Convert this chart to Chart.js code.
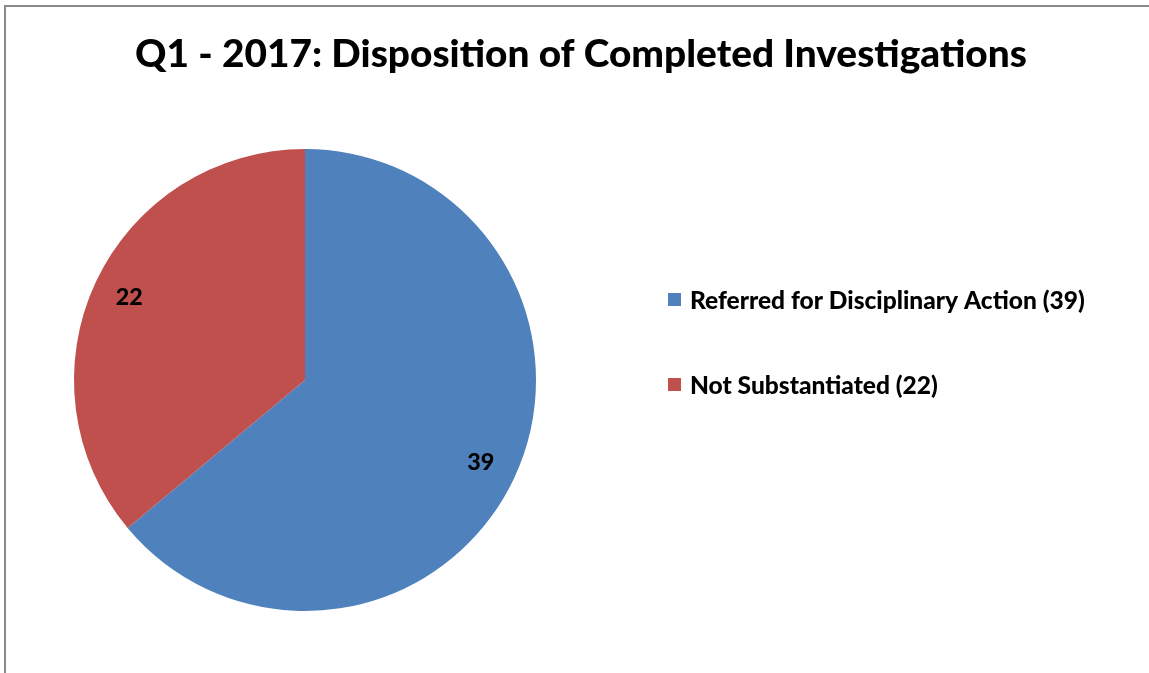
<!DOCTYPE html>
<html>
<head>
<meta charset="utf-8">
<script src="https://cdn.jsdelivr.net/npm/chart.js@4.4.0/dist/chart.umd.min.js"></script>
<style>
  html, body { margin: 0; padding: 0; background: #ffffff; }
  #wrap { position: relative; width: 1149px; height: 673px; }
</style>
</head>
<body>
<div id="wrap"><canvas id="c" width="1149" height="673"></canvas></div>
<script>
const chartTitle = "Q1 - 2017: Disposition of Completed Investigations";
const categories = ["Referred for Disciplinary Action", "Not Substantiated"];
const values = [39, 22];
const sliceColors = ["#4F81BD", "#C0504D"];

const FONT = "Lato, 'Open Sans', 'Liberation Sans', sans-serif";
const WEIGHT = "900";

function fitFont(ctx, text, targetWidth, baseSize) {
  ctx.font = WEIGHT + " " + baseSize + "px " + FONT;
  const w = ctx.measureText(text).width;
  return baseSize * targetWidth / w;
}

const decorPlugin = {
  id: 'decor',
  afterDraw(chart) {
    const ctx = chart.ctx;
    ctx.save();
    // frame
    ctx.strokeStyle = "#8a8a8a";
    ctx.lineWidth = 2;
    ctx.beginPath();
    ctx.moveTo(5, 673);
    ctx.lineTo(5, 6);
    ctx.lineTo(1149, 6);
    ctx.stroke();

    // title
    const ts = fitFont(ctx, chartTitle, 892, 36);
    ctx.font = WEIGHT + " " + ts + "px " + FONT;
    ctx.fillStyle = "#000000";
    ctx.textAlign = "center";
    ctx.textBaseline = "middle";
    ctx.fillText(chartTitle, 581, 54);

    // legend
    const labels = categories.map((c, i) => c + " (" + values[i] + ")");
    const ls = fitFont(ctx, labels[0], 395, 22);
    ctx.font = WEIGHT + " " + ls + "px " + FONT;
    ctx.textAlign = "left";
    const legendY = [300, 385];
    labels.forEach((t, i) => {
      const y = legendY[i];
      ctx.fillStyle = sliceColors[i];
      ctx.fillRect(668, y - 7, 13, 13);
      ctx.fillStyle = "#000000";
      ctx.fillText(t, 690, y + 1);
    });

    // data labels
    const meta = chart.getDatasetMeta(0);
    ctx.font = WEIGHT + " " + (ls * 0.95) + "px " + FONT;
    ctx.textAlign = "center";
    meta.data.forEach((arc, i) => {
      const p = arc.getProps(['x', 'y', 'startAngle', 'endAngle', 'outerRadius'], true);
      const mid = (p.startAngle + p.endAngle) / 2;
      const r = p.outerRadius * 0.84;
      const x = p.x + Math.cos(mid) * r;
      const y = p.y + Math.sin(mid) * r;
      ctx.fillStyle = "#000000";
      ctx.fillText(String(values[i]), x, y);
    });
    ctx.restore();
  }
};

new Chart(document.getElementById('c'), {
  type: 'pie',
  data: {
    labels: categories,
    datasets: [{
      data: values,
      backgroundColor: sliceColors,
      borderWidth: 0
    }]
  },
  options: {
    responsive: false,
    animation: false,
    layout: { padding: { left: 74, right: 613, top: 149, bottom: 62 } },
    plugins: {
      legend: { display: false },
      title: { display: false },
      tooltip: { enabled: false }
    }
  },
  plugins: [decorPlugin]
});
</script>
</body>
</html>
